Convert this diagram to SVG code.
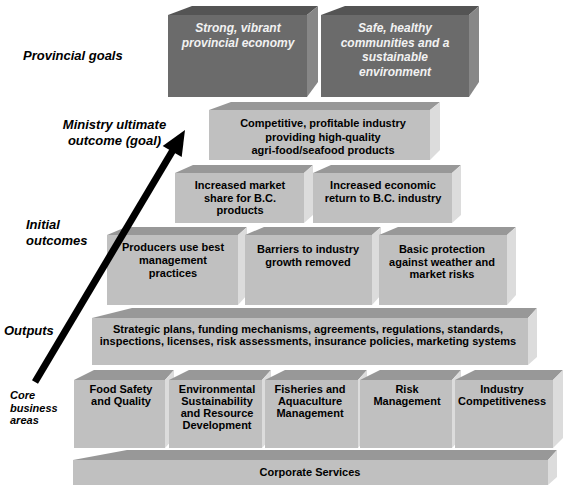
<svg xmlns="http://www.w3.org/2000/svg" width="570" height="491" viewBox="0 0 570 491">
<defs>
<style>
.df{fill:#6b6b6b}.dt{fill:#545454}.ds{fill:#878787}
.lf{fill:#c0c0c0}.lt{fill:#989898}.ls{fill:#dcdcdc}
.gt{font-family:"Liberation Sans",Arial,sans-serif;font-size:12px;font-weight:bold;font-style:italic;fill:#f2f2f2;text-anchor:middle}
.bt{font-family:"Liberation Sans",Arial,sans-serif;font-size:11px;font-weight:bold;fill:#000;text-anchor:middle}
.lb{font-family:"Liberation Sans",Arial,sans-serif;font-size:13px;font-weight:bold;font-style:italic;fill:#000}
.lbs{font-family:"Liberation Sans",Arial,sans-serif;font-size:11px;font-weight:bold;font-style:italic;fill:#000}
</style>
</defs>
<rect width="570" height="491" fill="#fff"/>

<g id="labels">
<text class="lb" x="23" y="60">Provincial goals</text>
<text class="lb" x="114.5" y="129" text-anchor="middle">Ministry ultimate</text>
<text class="lb" x="114.5" y="145" text-anchor="middle">outcome (goal)</text>
<text class="lb" x="26" y="229">Initial</text>
<text class="lb" x="26" y="245">outcomes</text>
<text class="lb" x="4" y="335">Outputs</text>
<text class="lbs" x="10" y="399">Core</text>
<text class="lbs" x="10" y="412">business</text>
<text class="lbs" x="10" y="424">areas</text>
</g>

<g id="goal1">
<polygon class="dt" points="168,15 192,6 318,6 307,15"/>
<polygon class="ds" points="307,15 318,6 318,82 307,97"/>
<rect class="df" x="168" y="15" width="139" height="82"/>
<text class="gt" x="238" y="32">Strong, vibrant</text>
<text class="gt" x="238" y="47">provincial economy</text>
</g>
<g id="goal2">
<polygon class="dt" points="321,15 345,6 479,6 469,15"/>
<polygon class="ds" points="469,15 479,6 479,82 469,97"/>
<rect class="df" x="321" y="15" width="148" height="82"/>
<text class="gt" x="395" y="32">Safe, healthy</text>
<text class="gt" x="395" y="46.5">communities and a</text>
<text class="gt" x="395" y="61">sustainable</text>
<text class="gt" x="395" y="75.5">environment</text>
</g>

<g id="ministry">
<polygon class="lt" points="209,110 231,102 440,102 430,110"/>
<polygon class="ls" points="430,110 440,102 440,150 430,160"/>
<rect class="lf" x="209" y="110" width="221" height="50"/>
<text class="bt" x="323" y="127">Competitive, profitable industry</text>
<text class="bt" x="323" y="140.5">providing high-quality</text>
<text class="bt" x="323" y="154">agri-food/seafood products</text>
</g>

<g id="market">
<polygon class="lt" points="175,173 193,165 313,165 304,173"/>
<polygon class="ls" points="304,173 313,165 313,215 304,223"/>
<rect class="lf" x="175" y="173" width="129" height="50"/>
<text class="bt" x="240" y="189">Increased market</text>
<text class="bt" x="240" y="201.5">share for B.C.</text>
<text class="bt" x="240" y="214">products</text>
</g>
<g id="economic">
<polygon class="lt" points="313,173 331,165 461,165 452,173"/>
<polygon class="ls" points="452,173 461,165 461,215 452,223"/>
<rect class="lf" x="313" y="173" width="139" height="50"/>
<text class="bt" x="383" y="189">Increased economic</text>
<text class="bt" x="383" y="201.5">return to B.C. industry</text>
</g>

<g id="producers">
<polygon class="lt" points="107,235 126,227 247,227 238,235"/>
<polygon class="ls" points="238,235 247,227 247,295 238,305"/>
<rect class="lf" x="107" y="235" width="131" height="70"/>
<text class="bt" x="173" y="251">Producers use best</text>
<text class="bt" x="173" y="264">management</text>
<text class="bt" x="173" y="276.5">practices</text>
</g>
<g id="barriers">
<polygon class="lt" points="245,235 264,227 381,227 372,235"/>
<polygon class="ls" points="372,235 381,227 381,295 372,305"/>
<rect class="lf" x="245" y="235" width="127" height="70"/>
<text class="bt" x="308" y="253">Barriers to industry</text>
<text class="bt" x="308" y="265.5">growth removed</text>
</g>
<g id="protection">
<polygon class="lt" points="379,235 398,227 516,227 507,235"/>
<polygon class="ls" points="507,235 516,227 516,295 507,305"/>
<rect class="lf" x="379" y="235" width="128" height="70"/>
<text class="bt" x="442" y="253">Basic protection</text>
<text class="bt" x="442" y="265.5">against weather and</text>
<text class="bt" x="442" y="277.5">market risks</text>
</g>

<g id="outputs">
<polygon class="lt" points="92,318 132,308 537,308 528,318"/>
<polygon class="ls" points="528,318 537,308 537,357 528,365"/>
<rect class="lf" x="92" y="318" width="436" height="47"/>
<text class="bt" x="308" y="333">Strategic plans, funding mechanisms, agreements, regulations, standards,</text>
<text class="bt" x="308" y="345">inspections, licenses, risk assessments, insurance policies, marketing systems</text>
</g>

<g id="food-safety">
<polygon class="lt" points="74,380 94,370 174,370 165,380"/>
<polygon class="ls" points="165,380 174,370 174,438 165,448"/>
<rect class="lf" x="74" y="380" width="91" height="68"/>
<text class="bt" x="121" y="393">Food Safety</text>
<text class="bt" x="121" y="405">and Quality</text>
</g>
<g id="environmental">
<polygon class="lt" points="169,380 189,370 271,370 262,380"/>
<polygon class="ls" points="262,380 271,370 271,438 262,448"/>
<rect class="lf" x="169" y="380" width="93" height="68"/>
<text class="bt" x="217" y="393">Environmental</text>
<text class="bt" x="217" y="405">Sustainability</text>
<text class="bt" x="217" y="417">and Resource</text>
<text class="bt" x="217" y="429">Development</text>
</g>
<g id="fisheries">
<polygon class="lt" points="265,380 285,370 367,370 358,380"/>
<polygon class="ls" points="358,380 367,370 367,438 358,448"/>
<rect class="lf" x="265" y="380" width="93" height="68"/>
<text class="bt" x="310" y="393">Fisheries and</text>
<text class="bt" x="310" y="405">Aquaculture</text>
<text class="bt" x="310" y="417">Management</text>
</g>
<g id="risk">
<polygon class="lt" points="360,380 380,370 461,370 452,380"/>
<polygon class="ls" points="452,380 461,370 461,438 452,448"/>
<rect class="lf" x="360" y="380" width="92" height="68"/>
<text class="bt" x="407" y="393">Risk</text>
<text class="bt" x="407" y="405">Management</text>
</g>
<g id="competitiveness">
<polygon class="lt" points="455,380 475,370 563,370 553,380"/>
<polygon class="ls" points="553,380 563,370 563,438 553,448"/>
<rect class="lf" x="455" y="380" width="98" height="68"/>
<text class="bt" x="502" y="393">Industry</text>
<text class="bt" x="502" y="405">Competitiveness</text>
</g>

<g id="corporate">
<polygon class="lt" points="73,460 127,450 557,450 548,460"/>
<polygon class="ls" points="548,460 557,450 557,477 548,485"/>
<rect class="lf" x="73" y="460" width="475" height="25"/>
<text class="bt" x="310" y="476">Corporate Services</text>
</g>

<g id="connectors">
<line x1="35" y1="382" x2="173" y2="150" stroke="#000" stroke-width="7"/>
<polygon points="185,130 162.7,145.9 181.7,157.1" fill="#000"/>
</g>
</svg>
